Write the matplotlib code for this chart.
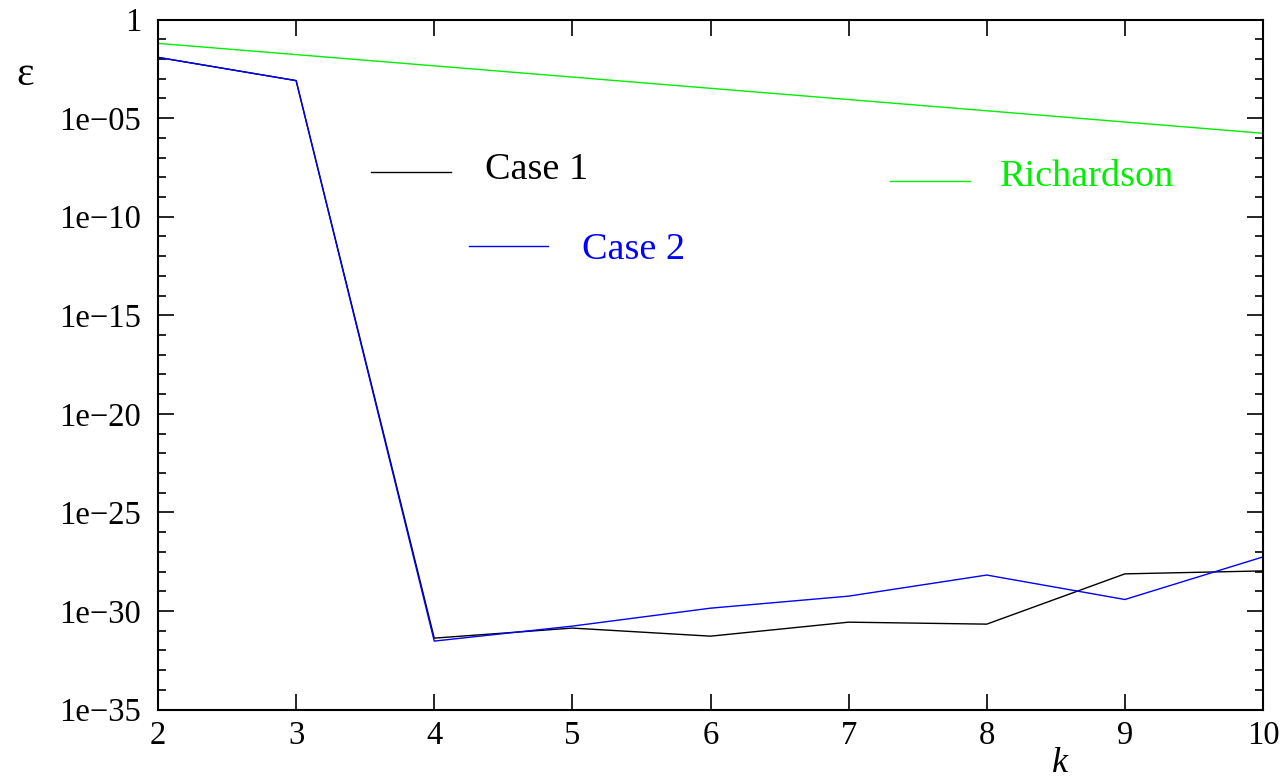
import numpy as np
import matplotlib
matplotlib.use('Agg')
import matplotlib.pyplot as plt
from matplotlib.ticker import FixedLocator, FuncFormatter

plt.rcParams['font.family'] = ['Liberation Serif', 'DejaVu Serif']
plt.rcParams['font.size'] = 23.5

# k values
k = [2, 3, 4, 5, 6, 7, 8, 9, 10]

# log10 of the error
case1_log = [-1.92, -3.10, -31.38, -30.87, -31.28, -30.57, -30.67, -28.12, -27.97]
case2_log = [-1.92, -3.10, -31.53, -30.77, -29.86, -29.25, -28.18, -29.42, -27.26]
rich_log = [-1.21, -1.78, -2.35, -2.92, -3.49, -4.06, -4.63, -5.20, -5.77]

case1 = [10.0 ** v for v in case1_log]
case2 = [10.0 ** v for v in case2_log]
rich = [10.0 ** v for v in rich_log]

ytick_vals = [1e-35, 1e-30, 1e-25, 1e-20, 1e-15, 1e-10, 1e-05, 1]
ytick_labels = ['1e\u221235', '1e\u221230', '1e\u221225', '1e\u221220',
                '1e\u221215', '1e\u221210', '1e\u221205', '1']

fig = plt.figure(figsize=(12.86, 7.8), dpi=100)
ax = fig.add_axes([158/1286, 1 - 709.5/780, 1105/1286, 690/780])

ax.plot(k, case1, color='black', lw=1.0)
ax.plot(k, case2, color='blue', lw=1.0)
ax.plot(k, rich, color='#00ee00', lw=1.0)

ax.set_yscale('log')
ax.set_xlim(2, 10)
ax.set_ylim(1e-35, 1)

ax.yaxis.set_major_locator(FixedLocator(ytick_vals))
ax.yaxis.set_major_formatter(FuncFormatter(lambda v, p: ytick_labels[ytick_vals.index(v)] if v in ytick_vals else ''))
ax.yaxis.set_minor_locator(FixedLocator([10.0 ** e for e in range(-35, 1)]))
ax.yaxis.set_minor_formatter(FuncFormatter(lambda v, p: ''))
ax.set_xticks(k)

ax.tick_params(which='both', direction='in', top=True, right=True, width=1.2)
ax.tick_params(which='major', length=11.5)
ax.tick_params(which='minor', length=5.8)
ax.tick_params(axis='y', which='major', pad=12)
ax.tick_params(axis='x', which='major', pad=8)
for s in ax.spines.values():
    s.set_linewidth(1.5)

# manual legend entries
ax.plot([0.193, 0.265], [0.779, 0.779], color='black', lw=1.0, transform=ax.transAxes)
ax.text(0.296, 0.782, 'Case 1', color='black', va='center', fontsize=27.5, transform=ax.transAxes)
ax.plot([0.281, 0.353], [0.672, 0.672], color='blue', lw=1.0, transform=ax.transAxes)
ax.text(0.384, 0.666, 'Case 2', color='blue', va='center', fontsize=27.5, transform=ax.transAxes)
ax.plot([0.662, 0.735], [0.766, 0.766], color='#00ee00', lw=1.0, transform=ax.transAxes)
ax.text(0.762, 0.772, 'Richardson', color='#00ee00', va='center', fontsize=27.5, transform=ax.transAxes)

fig.text(25/1286, 1 - 75/780, '\u03b5', ha='center', va='center', fontsize=30)
fig.text(1060/1286, 1 - 764/780, 'k', ha='center', va='center', style='italic', fontsize=26)

fig.savefig('out.png', dpi=100)
